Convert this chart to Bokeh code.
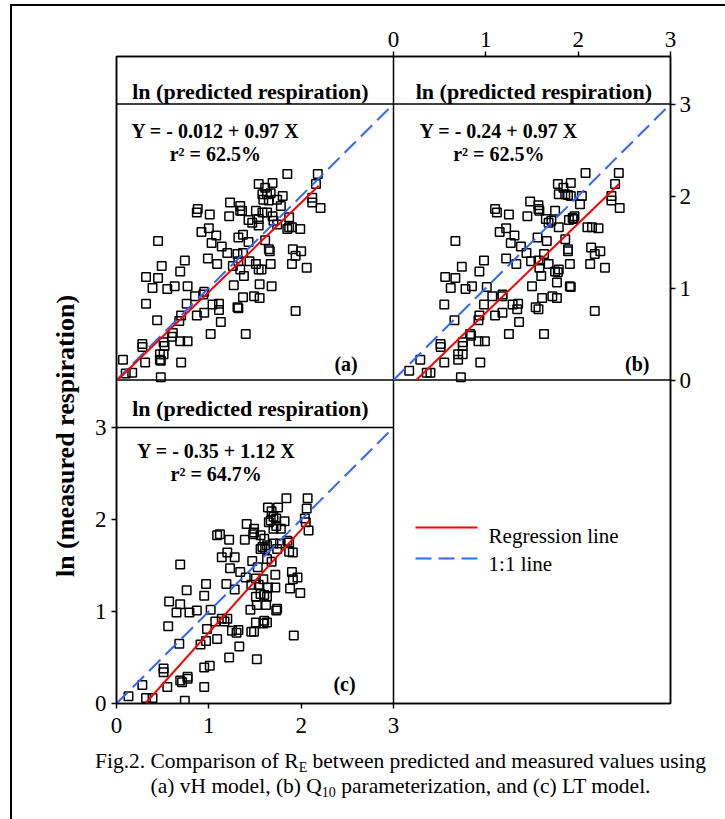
from bokeh.plotting import figure
from bokeh.layouts import column, row
from bokeh.models import Range1d, LinearAxis, FixedTicker, Div
from bokeh.core.properties import value
from bokeh.embed import file_html
from bokeh.resources import INLINE

SERIF = "Liberation Serif"

# ln(predicted) / ln(measured) respiration pairs, panel (a): vH model
a_pred = [1.85, 2.18, 2.16, 1.54, 1.69, 1.61, 1.58, 1.63, 1.67, 1.80,
          1.74, 1.65, 1.59, 2.12, 2.12, 2.21, 0.88, 0.87, 1.01, 1.23,
          1.34, 1.34, 1.36, 1.22, 1.51, 1.58, 1.63, 1.78, 1.43, 1.47,
          1.54, 1.54, 1.69, 1.70, 1.74, 1.87, 1.87, 1.90, 1.99, 1.85,
          0.92, 1.00, 1.08, 1.03, 1.32, 1.37, 1.43, 1.61, 1.65, 1.66,
          0.45, 1.14, 1.20, 1.31, 1.32, 1.37, 0.99, 1.09, 1.26, 1.34,
          1.38, 1.44, 1.51, 1.54, 1.57, 1.67, 1.91, 2.00, 1.94, 1.90,
          2.06, 0.74, 0.49, 0.69, 0.32, 0.45, 0.39, 0.55, 0.63, 0.77,
          1.27, 1.55, 1.68, 0.95, 0.94, 0.85, 1.37, 1.49, 1.55, 0.32,
          0.76, 1.04, 1.11, 1.11, 1.31, 1.32, 1.94, 0.44, 0.70, 0.68,
          0.87, 0.95, 1.13, 0.61, 0.60, 1.02, 1.40, 0.28, 0.28, 0.51,
          0.52, 0.69, 0.77, 0.51, 0.47, 0.47, 0.07, 0.31, 0.70, 0.48,
          0.17, 0.10, 0.48]
a_meas = [2.24, 2.24, 2.13, 2.13, 2.14, 2.09, 2.02, 2.02, 2.03, 2.00,
          1.96, 1.95, 1.96, 1.98, 1.93, 1.87, 1.86, 1.82, 1.80, 1.93,
          1.89, 1.84, 1.84, 1.78, 1.84, 1.82, 1.82, 1.89, 1.74, 1.71,
          1.68, 1.75, 1.78, 1.73, 1.69, 1.77, 1.66, 1.66, 1.64, 1.64,
          1.61, 1.65, 1.57, 1.49, 1.55, 1.58, 1.50, 1.52, 1.42, 1.40,
          1.51, 1.45, 1.38, 1.37, 1.29, 1.38, 1.32, 1.26, 1.24, 1.20,
          1.13, 1.29, 1.26, 1.20, 1.20, 1.26, 1.42, 1.40, 1.35, 1.26,
          1.22, 1.30, 1.24, 1.18, 1.12, 1.11, 1.00, 0.99, 1.02, 1.02,
          1.03, 1.04, 1.02, 0.96, 0.93, 0.91, 0.90, 0.91, 0.89, 0.83,
          0.83, 0.82, 0.83, 0.76, 0.79, 0.78, 0.75, 0.65, 0.70, 0.64,
          0.70, 0.73, 0.63, 0.51, 0.47, 0.50, 0.50, 0.39, 0.36, 0.41,
          0.37, 0.42, 0.42, 0.28, 0.28, 0.22, 0.22, 0.19, 0.19, 0.21,
          0.08, 0.07, 0.03]

# panel (b): Q10 parameterization
b_pred = [2.08, 2.44, 1.78, 1.92, 2.40, 1.84, 1.79, 1.86, 1.89, 1.92,
          2.04, 2.02, 2.36, 2.36, 2.45, 1.48, 1.57, 1.57, 1.58, 1.10,
          1.12, 1.25, 1.45, 1.65, 1.68, 1.71, 1.75, 1.79, 1.94, 1.95,
          1.96, 1.90, 1.15, 1.22, 1.31, 1.27, 1.56, 1.66, 1.38, 1.44,
          0.67, 1.86, 1.89, 1.89, 2.10, 2.15, 2.22, 2.14, 2.24, 2.18,
          2.13, 2.29, 1.22, 1.33, 0.98, 0.74, 0.93, 1.49, 1.57, 1.63,
          1.58, 1.60, 1.68, 1.75, 1.79, 1.77, 1.91, 1.78, 0.56, 0.67,
          0.62, 0.78, 0.85, 1.01, 1.50, 1.91, 1.92, 1.07, 1.18, 1.18,
          1.72, 1.77, 1.61, 0.55, 0.98, 1.29, 1.35, 1.34, 1.54, 1.57,
          2.18, 0.66, 0.93, 0.92, 1.10, 1.18, 1.36, 0.83, 0.84, 1.25,
          1.63, 0.51, 0.51, 0.75, 0.75, 0.92, 0.99, 0.75, 0.70, 0.70,
          0.29, 0.55, 0.94, 0.40, 0.36, 0.17, 0.73]
b_meas = [2.25, 2.25, 2.13, 2.14, 2.13, 2.09, 2.02, 2.02, 2.01, 2.00,
          2.00, 1.91, 2.00, 1.95, 1.87, 1.94, 1.90, 1.86, 1.84, 1.86,
          1.82, 1.80, 1.78, 1.75, 1.71, 1.73, 1.84, 1.66, 1.76, 1.75,
          1.78, 1.74, 1.61, 1.65, 1.57, 1.49, 1.55, 1.51, 1.45, 1.38,
          1.51, 1.53, 1.42, 1.40, 1.66, 1.66, 1.65, 1.44, 1.40, 1.37,
          1.26, 1.22, 1.32, 1.26, 1.30, 1.23, 1.18, 1.29, 1.30, 1.37,
          1.22, 1.13, 1.26, 1.18, 1.20, 1.06, 1.26, 1.17, 1.12, 1.11,
          1.00, 0.99, 1.02, 1.01, 1.02, 1.02, 1.01, 0.91, 0.93, 0.91,
          0.91, 0.89, 0.89, 0.82, 0.82, 0.82, 0.83, 0.77, 0.79, 0.77,
          0.75, 0.65, 0.70, 0.65, 0.70, 0.73, 0.63, 0.50, 0.48, 0.50,
          0.50, 0.39, 0.36, 0.41, 0.37, 0.42, 0.42, 0.28, 0.28, 0.22,
          0.22, 0.19, 0.19, 0.08, 0.08, 0.10, 0.03]

# panel (c): LT model
c_pred = [1.84, 2.07, 1.64, 1.75, 2.06, 1.68, 1.70, 1.73, 1.67, 1.65,
          1.82, 1.73, 1.78, 1.70, 2.04, 2.05, 2.08, 1.41, 1.49, 1.49,
          1.48, 1.09, 1.12, 1.22, 1.39, 1.56, 1.60, 1.63, 1.70, 1.74,
          1.58, 1.61, 1.77, 1.56, 1.87, 1.91, 1.87, 1.85, 1.14, 1.20,
          1.28, 1.23, 1.47, 1.53, 1.34, 1.40, 0.69, 1.68, 1.63, 1.51,
          1.59, 1.54, 1.46, 1.56, 1.60, 1.63, 1.64, 1.72, 1.72, 1.74,
          1.73, 1.90, 1.91, 1.96, 1.88, 1.99, 1.19, 1.28, 0.76, 0.57,
          0.69, 0.65, 0.79, 0.87, 0.95, 0.97, 1.02, 1.45, 1.51, 1.52,
          1.62, 1.63, 1.59, 1.60, 0.56, 0.68, 0.98, 1.07, 1.14, 1.17,
          1.20, 1.25, 1.30, 1.32, 1.46, 1.49, 1.51, 1.92, 0.91, 0.97,
          1.09, 1.22, 1.33, 1.52, 0.51, 0.51, 0.55, 0.69, 0.71, 0.77,
          0.77, 0.95, 1.01, 0.95, 0.28, 0.32, 0.39, 0.13, 0.74]
c_meas = [2.23, 2.23, 2.13, 2.13, 2.12, 2.09, 2.03, 2.01, 1.99, 1.97,
          1.98, 1.93, 1.90, 1.90, 2.01, 1.97, 1.88, 1.95, 1.90, 1.86,
          1.84, 1.83, 1.84, 1.78, 1.78, 1.83, 1.79, 1.72, 1.74, 1.68,
          1.70, 1.68, 1.74, 1.68, 1.75, 1.64, 1.65, 1.77, 1.59, 1.64,
          1.59, 1.47, 1.55, 1.48, 1.43, 1.37, 1.51, 1.54, 1.57, 1.36,
          1.35, 1.29, 1.29, 1.19, 1.18, 1.16, 1.26, 1.40, 1.26, 1.03,
          1.01, 1.43, 1.35, 1.37, 1.25, 1.20, 1.30, 1.24, 1.23, 1.11,
          1.08, 0.99, 0.99, 1.01, 1.17, 1.30, 1.02, 1.02, 1.16, 1.07,
          1.07, 0.88, 0.87, 0.90, 0.84, 0.65, 0.81, 0.89, 0.92, 0.89,
          0.92, 0.79, 0.77, 0.80, 0.78, 0.78, 0.88, 0.74, 0.64, 0.68,
          0.70, 0.50, 0.62, 0.48, 0.38, 0.34, 0.18, 0.25, 0.23, 0.27,
          0.29, 0.39, 0.41, 0.18, 0.20, 0.06, 0.06, 0.08, 0.03]

# fitted regressions  Y = intercept + slope * X
intercepts = [-0.012, -0.24, -0.35]
slopes = [0.97, 0.97, 1.12]
r_squared = [62.5, 62.5, 64.7]
fit_x_start = [0.012, 0.247, 0.3125]
fit_x_end = [2.19, 2.44, 2.09]
panel_tags = ["(a)", "(b)", "(c)"]
header_title = "ln (predicted respiration)"
y_title = "ln (measured respiration)"
axis_ticks = [0, 1, 2, 3]
legend_labels = ["Regression line", "1:1 line"]

RED = "#ff0000"
BLUE = "#3366ff"

# page geometry (pixels)
W, H = 725, 819
LEFT_STRIP = 88        # column holding the shared y title
FIG_BOTTOM = 748       # caption block starts here
FL, FR, FT, FB = 116, 670, 56, 703   # 2x2 panel block on the page
UY = 92.0
PH = (FB - FT) / 2.0 / UY            # panel height incl. header strip, data units

fig_w = W - LEFT_STRIP
fig_h = FIG_BOTTOM
p = figure(width=fig_w, height=fig_h, x_range=Range1d(0, 6), y_range=Range1d(0, 2 * PH),
           output_backend="svg", toolbar_location=None,
           min_border_left=FL - LEFT_STRIP, min_border_right=W - FR,
           min_border_top=FT, min_border_bottom=FIG_BOTTOM - FB)
p.extra_x_ranges = {"xb": Range1d(-3, 3)}
p.extra_y_ranges = {"ya": Range1d(-PH, PH)}
p.xgrid.visible = False
p.ygrid.visible = False
p.outline_line_color = "black"
p.outline_line_width = 1.5
p.background_fill_color = "white"
p.border_fill_alpha = 0

p.add_layout(LinearAxis(x_range_name="xb"), "above")
p.add_layout(LinearAxis(y_range_name="ya"), "right")

standoffs = {"below": 9, "left": 5, "above": 5, "right": 4}
for side in ["below", "left", "above", "right"]:
    for ax in getattr(p, side):
        ax.ticker = FixedTicker(ticks=axis_ticks)
        ax.major_label_text_font = SERIF
        ax.major_label_text_font_size = "23px"
        ax.major_label_text_color = "black"
        ax.major_tick_in = 0
        ax.major_tick_out = 5
        ax.major_tick_line_width = 1.5
        ax.minor_tick_line_color = None
        ax.axis_line_color = "black"
        ax.axis_line_width = 1.5
        ax.major_label_standoff = standoffs[side]

# panel dividers and header strips
p.segment(x0=[3, 0, 0, 0], y0=[0, PH, PH + 3, 3], x1=[3, 6, 6, 3], y1=[2 * PH, PH, PH + 3, 3],
          line_color="black", line_width=1.5)

panels = [
    dict(pred=a_pred, meas=a_meas, xr="default", yr="ya", title_x=1.45, title_y=3 + 13 / UY,
         eq_x=1.07, eq_y=2.707, r2_y=2.453, tag_x=2.486, tag_y=0.17),
    dict(pred=b_pred, meas=b_meas, xr="xb", yr="ya", title_x=1.52, title_y=3 + 13 / UY,
         eq_x=1.14, eq_y=2.707, r2_y=2.453, tag_x=2.64, tag_y=0.17),
    dict(pred=c_pred, meas=c_meas, xr="default", yr="default", title_x=1.45, title_y=3 + 19 / UY,
         eq_x=1.08, eq_y=2.75, r2_y=2.497, tag_x=2.47, tag_y=0.214),
]

for i, pan in enumerate(panels):
    rng = dict(x_range_name=pan["xr"], y_range_name=pan["yr"])
    p.scatter(pan["pred"], pan["meas"], marker="square", size=8.5, fill_color=None,
              line_color="black", line_width=1.5, **rng)
    p.line([0, 3], [0, 3], line_color=BLUE, line_width=2, line_dash="16 7", **rng)
    xs = [fit_x_start[i], fit_x_end[i]]
    ys = [intercepts[i] + slopes[i] * x for x in xs]
    p.line(xs, ys, line_color=RED, line_width=2, **rng)

    p.text(x=[pan["title_x"]], y=[pan["title_y"]], text=[header_title],
           text_font=value(SERIF), text_font_style="bold", text_font_size="22px",
           text_align="center", text_baseline="alphabetic", text_color="black", **rng)
    sign = "-" if intercepts[i] < 0 else "+"
    eq = f"Y = {sign} {abs(intercepts[i])} + {slopes[i]} X"
    r2 = f"r\u00b2 = {r_squared[i]}%"
    p.text(x=[pan["eq_x"], pan["eq_x"]], y=[pan["eq_y"], pan["r2_y"]], text=[eq, r2],
           text_font=value(SERIF), text_font_style="bold", text_font_size="20px",
           text_align="center", text_baseline="alphabetic", text_color="black", **rng)
    p.text(x=[pan["tag_x"]], y=[pan["tag_y"]], text=[panel_tags[i]],
           text_font=value(SERIF), text_font_style="bold", text_font_size="20px",
           text_align="center", text_baseline="alphabetic", text_color="black", **rng)

# legend in the empty lower-right panel
leg_y = [1.913, 1.576]
p.line([0.238, 0.91], [leg_y[0]] * 2, line_color=RED, line_width=2, x_range_name="xb")
p.line([0.238, 0.91], [leg_y[1]] * 2, line_color=BLUE, line_width=2, line_dash="16 7",
       x_range_name="xb")
p.text(x=[1.03, 1.03], y=[1.826, 1.518], text=legend_labels, text_font=value(SERIF),
       text_font_size="21px", text_align="left", text_baseline="alphabetic",
       text_color="black", x_range_name="xb")

# ---- surrounding HTML pieces: y title and caption ----
FONT = "font-family:'Liberation Serif',serif;color:#000;"

left_html = (
    f'<div style="position:relative;width:{LEFT_STRIP}px;height:{fig_h}px;">'
    f'<div style="position:absolute;left:66px;top:436px;'
    f'transform:translate(-50%,-50%) rotate(-90deg);white-space:nowrap;{FONT}'
    f'font-weight:bold;font-size:26px;line-height:1;">{y_title}</div>'
    '</div>'
)
left_div = Div(text=left_html, width=LEFT_STRIP, height=fig_h, margin=0)

cap_h = H - FIG_BOTTOM
SUBS = "font-size:14px;vertical-align:-4px;line-height:0;"
caption_lines = [
    f'Fig.2. Comparison of R<span style="{SUBS}">E</span> between predicted and measured values using',
    f'(a) vH model, (b) Q<span style="{SUBS}">10</span> parameterization, and (c) LT model.',
]
cap_html = (
    f'<div style="position:relative;width:{W}px;height:{cap_h}px;">'
    f'<div style="position:absolute;left:76px;width:649px;top:1px;text-align:center;'
    f'white-space:nowrap;{FONT}font-size:21.5px;line-height:25px;">'
    + "<br>".join(caption_lines) +
    '</div></div>'
)
cap_div = Div(text=cap_html, width=W, height=cap_h, margin=0)

# outer frame: rules along the top and left edge of the page
frame_rules = ("linear-gradient(#000,#000) 10px 4px / 715px 2px no-repeat, "
               "linear-gradient(#000,#000) 10px 4px / 2px 815px no-repeat, #fff")
page = column(row(left_div, p, spacing=0), cap_div, spacing=0,
              styles={"background": frame_rules})

open("out.html", "w").write(file_html(page, INLINE))
